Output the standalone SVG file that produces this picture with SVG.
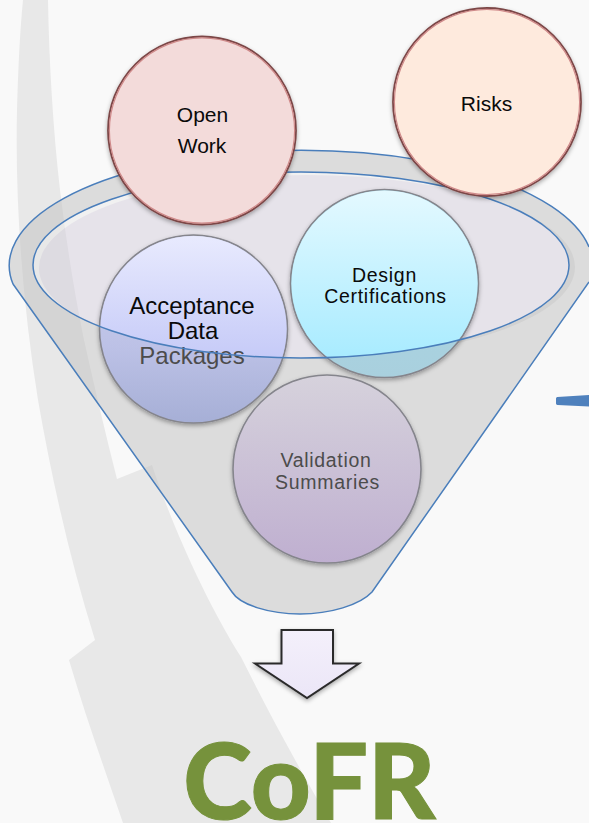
<svg xmlns="http://www.w3.org/2000/svg" width="589" height="823" viewBox="0 0 589 823">
<style>
text{font-family:"Liberation Sans",Arial,sans-serif;text-anchor:middle}
.t{font-size:21px;fill:#0a0a0a}
.b{font-size:24px}
.m{font-size:19.5px;letter-spacing:.7px}
.d{fill:#4c4c4c}
.fl{fill:none;stroke:#4a7ebb;stroke-width:1.5}
.c1{stroke:#85858c;stroke-width:1.6}
.c2{stroke:#7c4747;stroke-width:1.8}
.in{fill:none;stroke:#cf8a8a;stroke-width:1.2}
</style>
<defs>
<linearGradient id="ga" x1="0" y1="0" x2="0" y2="1"><stop offset="0" stop-color="#e8eafe"/><stop offset="1" stop-color="#b4baf4"/></linearGradient>
<linearGradient id="gb" x1="0" y1="0" x2="0" y2="1"><stop offset="0" stop-color="#d0d3ee"/><stop offset=".6" stop-color="#bcc1e6"/><stop offset="1" stop-color="#a6afd6"/></linearGradient>
<linearGradient id="gd" x1="0" y1="0" x2="0" y2="1"><stop offset="0" stop-color="#e4f9ff"/><stop offset="1" stop-color="#a2eaff"/></linearGradient>
<linearGradient id="ge" x1="0" y1="0" x2="0" y2="1"><stop offset="0" stop-color="#aad8e6"/><stop offset="1" stop-color="#a9d0de"/></linearGradient>
<linearGradient id="gv" x1="0" y1="0" x2="0" y2="1"><stop offset="0" stop-color="#d6d2dc"/><stop offset="1" stop-color="#bfafd0"/></linearGradient>
<linearGradient id="gr" x1="0" y1="0" x2="0" y2="1"><stop offset="0" stop-color="#f4f0fb"/><stop offset="1" stop-color="#ebe6f7"/></linearGradient>
<filter id="s" x="-10%" y="-10%" width="120%" height="125%"><feGaussianBlur in="SourceGraphic" stdDeviation=".35" result="g"/><feDropShadow in="g" dx="0" dy="2" stdDeviation="2" flood-color="#000" flood-opacity=".33"/></filter>
<clipPath id="ce"><ellipse cx="301" cy="265" rx="268" ry="93"/></clipPath>
<clipPath id="cf"><path d="M13 284A291 115 0 1 1 589 247V282L372 592C360 605 330 614 300 614C270 614 240 605 232 592Z"/></clipPath>
<path id="sw" d="M23 0H48C49 60 53 130 60 190C66 240 74 290 84 340C94 385 105 432 117 479L152 465C170 520 205 600 241 657C270 715 300 770 331 823H123C105 770 85 715 69 660L95 640C70 560 52 480 38 400C22 300 15 200 17 110C18 70 20 30 23 0Z"/>
</defs>
<rect width="589" height="823" fill="#f9f9f9"/>
<g id="background"><use href="#sw" fill="#e8e8e8"/></g>
<g id="funnel">
<path d="M13 284A291 115 0 1 1 589 247V282L372 592C360 605 330 614 300 614C270 614 240 605 232 592Z" fill="#dcdcdc"/>
<ellipse cx="307" cy="267" rx="268" ry="92" fill="#d2d2d2"/>
<ellipse cx="301" cy="265" rx="268" ry="93" fill="#f1f1f1"/>
<ellipse cx="307" cy="268" rx="268" ry="93" fill="#e6e3ea" clip-path="url(#ce)"/>
<use href="#sw" fill="#000" fill-opacity=".035" clip-path="url(#cf)"/>
<path d="M13 284A291 115 0 1 1 589 247M589 282L372 592C360 605 330 614 300 614C270 614 240 605 232 592L13 284" class="fl"/>
</g>
<g id="acceptance">
<circle cx="193.500" cy="329" r="94" fill="url(#gb)" class="c1" filter="url(#s)"/>
<circle cx="193.500" cy="329" r="93" fill="url(#ga)" clip-path="url(#ce)"/>
<text class="t b" x="192" y="314">Acceptance</text>
<text class="t b" x="193" y="338.500">Data</text>
<text class="t b d" x="192" y="364">Packages</text>
</g>
<g id="design">
<circle cx="384.500" cy="283.500" r="94" fill="url(#ge)" class="c1" filter="url(#s)"/>
<circle cx="384.500" cy="283.500" r="93" fill="url(#gd)" clip-path="url(#ce)"/>
<text class="t m" x="384.500" y="281.500">Design</text>
<text class="t m" x="385.500" y="303">Certifications</text>
</g>
<g id="validation">
<circle cx="327" cy="469" r="94" fill="url(#gv)" class="c1" filter="url(#s)"/>
<text class="t m d" x="326" y="467">Validation</text>
<text class="t m d" x="327.500" y="489">Summaries</text>
</g>
<g id="connectors">
<ellipse cx="301" cy="265" rx="268" ry="93" class="fl"/>
<path d="M557.500 398.500L589 396.500V405L557.500 403.500Z" fill="#4f81bd" stroke="#4f81bd" stroke-width="3" stroke-linejoin="round"/>
</g>
<g id="open-work">
<circle cx="202" cy="130.500" r="94" fill="#f3dbda" class="c2" filter="url(#s)"/>
<circle cx="202" cy="130.500" r="92.600" class="in"/>
<text class="t" x="202.500" y="122">Open</text>
<text class="t" x="202" y="153">Work</text>
</g>
<g id="risks">
<circle cx="487" cy="102" r="94" fill="#feeadd" class="c2" filter="url(#s)"/>
<circle cx="487" cy="102" r="92.600" class="in"/>
<text class="t" x="486.500" y="110.500">Risks</text>
</g>
<g id="down-arrow">
<path d="M281.500 630H333V663.500H359L307 698L255 663.500H281.500Z" fill="url(#gr)" stroke="#2a2a2a" stroke-width="2" filter="url(#s)"/>
</g>
<g id="result">
<text x="309.500" y="819" style="font-family:Lato,'Open Sans',sans-serif;font-size:104px;font-weight:900;fill:#76923c;stroke:#76923c;stroke-width:1">CoFR</text>
</g>
</svg>
